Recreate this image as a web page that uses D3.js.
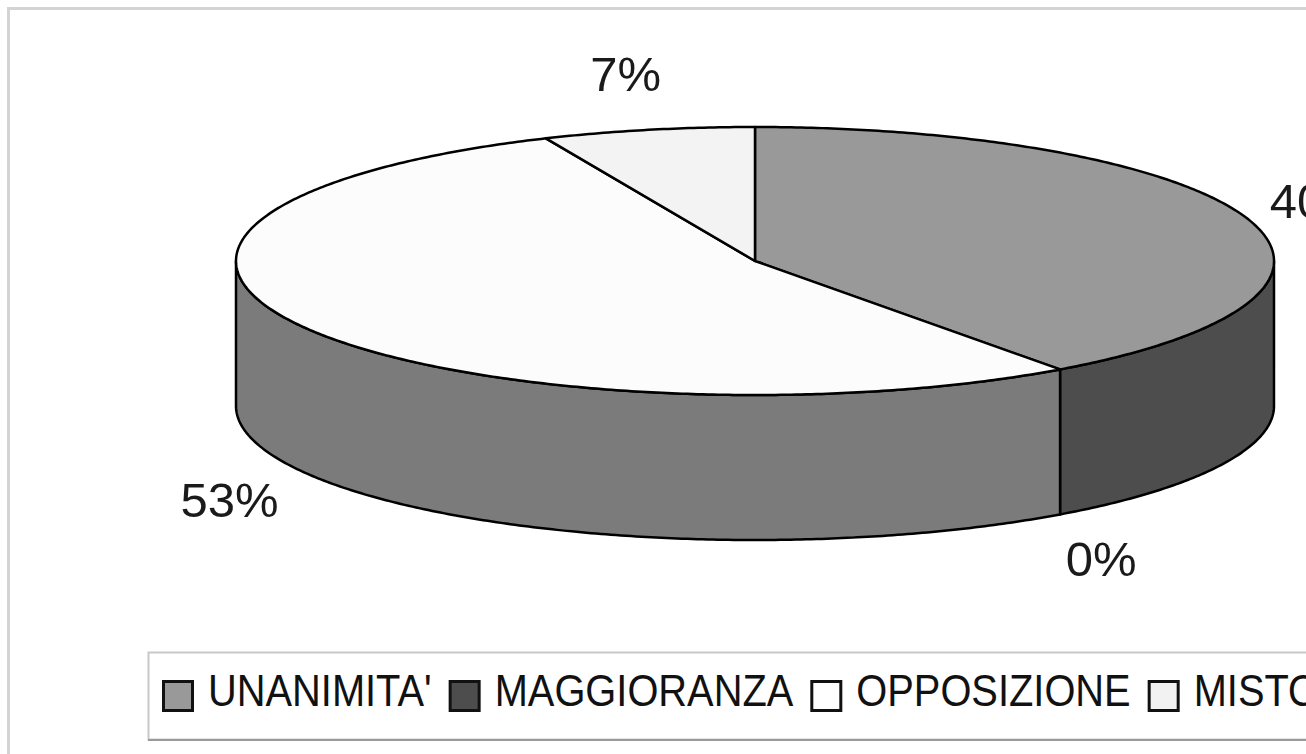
<!DOCTYPE html>
<html>
<head>
<meta charset="utf-8">
<script src="https://cdn.jsdelivr.net/npm/d3@7"></script>
<style>
  html, body { margin: 0; padding: 0; background: #ffffff; }
  svg { display: block; }
</style>
</head>
<body>
<svg id="chart" width="1306" height="754"></svg>
<script>
// ---- data ----
const categories = ["UNANIMITA'", "MAGGIORANZA", "OPPOSIZIONE", "MISTO"];
const values = [40.0, 0.0, 53.4, 6.6];
const topColors = ["#999999", "#4d4d4d", "#fcfcfc", "#f3f3f3"];
const sideColors = ["#4d4d4d", "#262626", "#7b7b7b", "#7a7a7a"];
const legendColors = ["#999999", "#4d4d4d", "#ffffff", "#f2f2f2"];

// ---- layout ----
const W = 1306, H = 754;
const cx = 755, cy = 261, rx = 519, ry = 134, depth = 145;
const labelRx = rx + 80, labelRy = ry + 56;

const svg = d3.select("#chart");

// outer chart border
svg.append("rect")
  .attr("x", 8.5).attr("y", 8.5)
  .attr("width", W + 40).attr("height", H + 40)
  .attr("fill", "#ffffff")
  .attr("stroke", "#d4d4d4").attr("stroke-width", 3);

const data = categories.map((c, i) => ({ name: c, value: values[i], i }));
const total = d3.sum(values);
const arcs = d3.pie().sort(null).value(d => d.value).startAngle(0).endAngle(2 * Math.PI)(data);

const pt = (a, dy) => [cx + rx * Math.sin(a), cy - ry * Math.cos(a) + (dy || 0)];
const sample = (a0, a1) => {
  const n = Math.max(2, Math.ceil(Math.abs(a1 - a0) / 0.01));
  return d3.range(n + 1).map(k => a0 + (a1 - a0) * k / n);
};
const line = d3.line();

const g = svg.append("g");

// sides (front half only)
arcs.forEach(a => {
  const s = Math.max(a.startAngle, Math.PI / 2);
  const e = Math.min(a.endAngle, 3 * Math.PI / 2);
  if (e - s <= 1e-6) return;
  const topPts = sample(s, e).map(t => pt(t, 0));
  const botPts = sample(e, s).map(t => pt(t, depth));
  g.append("path")
    .attr("d", line(topPts.concat(botPts)) + "Z")
    .attr("fill", sideColors[a.data.i])
    .attr("stroke", "#000").attr("stroke-width", 2.5)
    .attr("stroke-linejoin", "round");
});

// top faces
arcs.forEach(a => {
  if (a.endAngle - a.startAngle <= 1e-6) return;
  const pts = [[cx, cy]].concat(sample(a.startAngle, a.endAngle).map(t => pt(t, 0)));
  g.append("path")
    .attr("d", line(pts) + "Z")
    .attr("fill", topColors[a.data.i])
    .attr("stroke", "#000").attr("stroke-width", 2.5)
    .attr("stroke-linejoin", "round");
});

// percentage labels
const fmt = v => d3.format(".0f")(v / total * 100) + "%";
arcs.forEach(a => {
  const m = (a.startAngle + a.endAngle) / 2;
  const front = Math.cos(m) < 0 ? depth : 0;
  const x = cx + labelRx * Math.sin(m);
  const y = cy - labelRy * Math.cos(m) + front;
  svg.append("text")
    .attr("x", x - 6).attr("y", y + 16)
    .attr("text-anchor", "middle")
    .attr("font-family", "'Liberation Sans', Arial, sans-serif")
    .attr("font-size", 49)
    .attr("fill", "#1a1a1a")
    .text(fmt(a.data.value));
});

// legend
const legendBox = svg.append("g");
legendBox.append("rect")
  .attr("x", 148.5).attr("y", 652.5)
  .attr("width", 1300).attr("height", 87)
  .attr("fill", "#ffffff")
  .attr("stroke", "#c8c8c8").attr("stroke-width", 2);
legendBox.append("line")
  .attr("x1", 148).attr("x2", W + 10)
  .attr("y1", 740).attr("y2", 740)
  .attr("stroke", "#9a9a9a").attr("stroke-width", 2);

const sx = 0.885;
let lx = 162;
categories.forEach((c, i) => {
  legendBox.append("rect")
    .attr("x", lx + 1.5).attr("y", 681.5)
    .attr("width", 29).attr("height", 29)
    .attr("fill", legendColors[i])
    .attr("stroke", "#111").attr("stroke-width", 3);
  const tx = lx + 46;
  const t = legendBox.append("text")
    .attr("transform", `translate(${tx},706) scale(${sx},1)`)
    .attr("font-family", "'Liberation Sans', Arial, sans-serif")
    .attr("font-size", 45)
    .attr("fill", "#111")
    .text(c);
  const w = t.node().getComputedTextLength() * sx;
  lx = tx + w + 17;
});
</script>
</body>
</html>
